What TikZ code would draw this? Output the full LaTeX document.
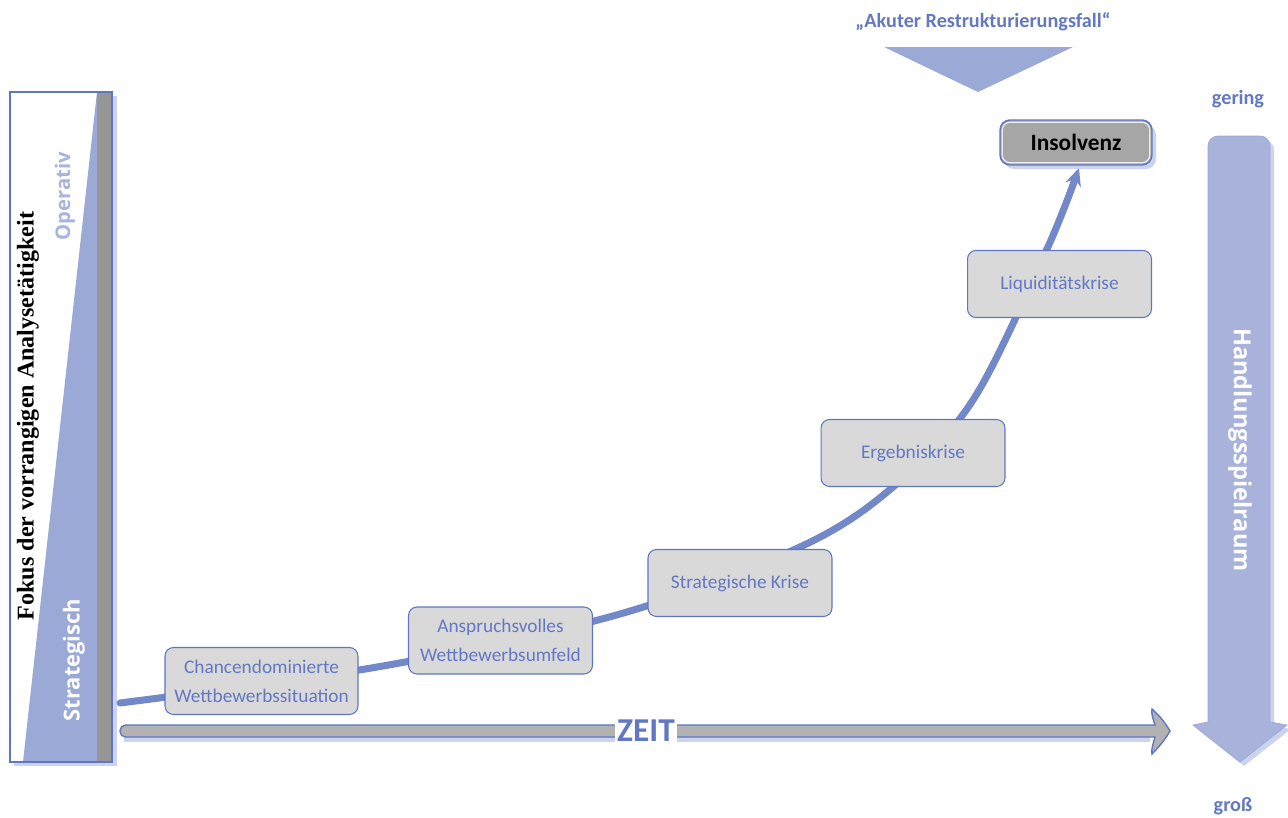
\documentclass[tikz,border=0pt]{standalone}
\usepackage{fontspec}
\setmainfont{Carlito}
\setsansfont{Open Sans}
\newfontfamily\serifbold{Liberation Serif}
\usetikzlibrary{shapes,arrows.meta,positioning,calc}

\definecolor{textblue}{RGB}{99,120,196}
\definecolor{curveblue}{RGB}{114,136,200}
\definecolor{boxline}{RGB}{96,118,196}
\definecolor{boxgray}{RGB}{217,217,217}
\definecolor{triblue}{RGB}{155,169,214}
\definecolor{handblue}{RGB}{168,178,219}
\definecolor{paleblue}{RGB}{204,211,238}
\definecolor{opblue}{RGB}{168,180,224}
\definecolor{stripgray}{RGB}{150,150,150}
\definecolor{insgray}{RGB}{166,166,166}
\definecolor{axisgray}{RGB}{178,178,178}

\begin{document}
\begin{tikzpicture}[
    x=0.02cm, y=-0.02cm,
    stage/.style={rectangle, rounded corners=0.17cm, draw=boxline, fill=boxgray, line width=0.6pt, minimum width=3.68cm, minimum height=1.34cm, align=center, text=textblue, font=\fontsize{11}{16.5}\selectfont},
    curve/.style={-{Stealth[length=10pt,width=9pt]}, line width=4pt, curveblue, line cap=round},
    bluetitle/.style={text=textblue, font=\bfseries\fontsize{11.5}{14}\selectfont},
    sidetext/.style={font=\sffamily\bfseries\fontsize{11.5}{12}\selectfont}
]
    \useasboundingbox (0,0) rectangle (1288,818);

    % linke Leiste
    \fill[paleblue] (14,96) rectangle (117,766);
    \fill[white] (10,92) rectangle (112,762);
    \fill[triblue] (23,762) -- (97,92) -- (97,762) -- cycle;
    \fill[stripgray] (97,92) rectangle (111,762);
    \draw[boxline, line width=1.2pt] (10,92) rectangle (112,762);
    \node[rotate=90, font=\serifbold\bfseries\fontsize{13.7}{15}\selectfont] (fokus) at (28,416) {Fokus der vorrangigen Analysetätigkeit};
    \node[rotate=90, sidetext, text=opblue] (operativ) at (65,196) {Operativ};
    \node[rotate=90, sidetext, text=white, font=\sffamily\bfseries\fontsize{12.5}{13}\selectfont] (strategisch) at (74,660) {Strategisch};

    % Zeitachse
    \fill[paleblue] (124,737) rectangle (1150,742);
    \filldraw[draw=boxline, fill=axisgray, line width=0.8pt] (1155,725) [rounded corners=0.11cm] -- (120,725) -- (120,737) [sharp corners] -- (1155,737)
        .. controls (1153,744) and (1151,750) .. (1152,754)
        .. controls (1160,746) and (1166,738) .. (1170,731)
        .. controls (1166,724) and (1160,716) .. (1152,709)
        .. controls (1151,713) and (1153,719) .. (1155,725) -- cycle;
    \node[fill=white, inner xsep=1pt, inner ysep=0pt, text=textblue, font=\bfseries\fontsize{19}{20}\selectfont] (zeit) at (646,731) {ZEIT};

    % Krisenverlauf
    \coordinate (c0) at (120,703);
    \coordinate (c7) at (1079,168);
    \draw[curve] plot[smooth, tension=0.55] coordinates {(c0) (383,666) (620,614) (800,547) (893,487) (973,400) (1047,249) (c7)};

    \node[stage, minimum width=3.86cm] (chance) at (261.5,681) {Chancendominierte\\Wettbewerbssituation};
    \node[stage] (umfeld) at (500.5,640.5) {Anspruchsvolles\\Wettbewerbsumfeld};
    \node[stage] (strat) at (740,583) {Strategische Krise};
    \node[stage] (ergebnis) at (913,453) {Ergebniskrise};
    \node[stage] (liquid) at (1059.5,284) {Liquiditätskrise};
    \fill[paleblue, rounded corners=0.2cm] (1004,125) rectangle (1156,169);
    \node[rectangle, rounded corners=0.2cm, draw=boxline, fill=insgray, line width=0.8pt, minimum width=3.04cm, minimum height=0.9cm, font=\bfseries\fontsize{13.3}{15}\selectfont] (insolvenz) at (1076,142.5) {Insolvenz};
    \draw[white!80!insgray, rounded corners=0.15cm, line width=0.7pt] ($(insolvenz.north west)+(3,3)$) rectangle ($(insolvenz.south east)+(-3,-3)$);

    % Akuter Restrukturierungsfall
    \node[bluetitle] (akut) at (983,22) {„Akuter Restrukturierungsfall“};
    \fill[triblue] (884,47) -- (1073,47) -- (978,92) -- cycle;

    % Handlungsspielraum
    \node[bluetitle] (gering) at (1238,99) {gering};
    \node[bluetitle] (gross) at (1233,806) {groß};
    \fill[paleblue] (1244,766) -- (1197,729) -- (1212,726) [rounded corners=0.2cm] -- (1212,140) -- (1274,140) [sharp corners] -- (1274,726) -- (1291,729) -- cycle;
    \filldraw[fill=handblue, draw=handblue!85!boxline, line width=0.4pt] (1240,762) -- (1193,725) -- (1208,722) [rounded corners=0.2cm] -- (1208,136) -- (1270,136) [sharp corners] -- (1270,722) -- (1287,725) -- cycle;
    \node[rotate=-90, text=white, font=\sffamily\bfseries\fontsize{13.4}{16}\selectfont] (spielraum) at (1240,450) {Handlungsspielraum};
\end{tikzpicture}
\end{document}
